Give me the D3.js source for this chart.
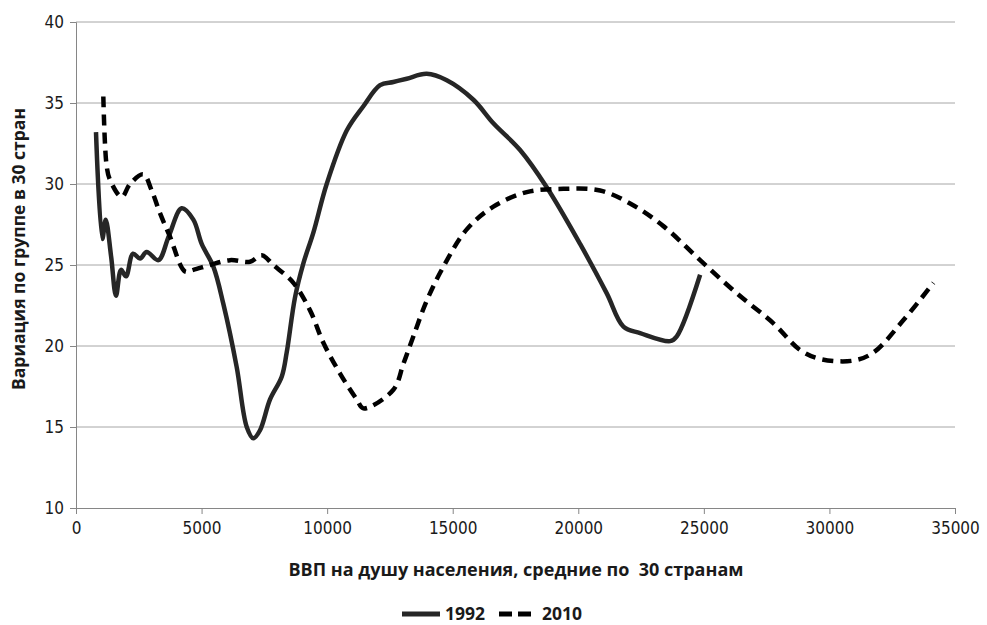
<!DOCTYPE html>
<html>
<head>
<meta charset="utf-8">
<script src="https://cdn.jsdelivr.net/npm/d3@7"></script>
<style>
  body { margin: 0; background: #fff; }
  text { font-family: "DejaVu Sans Condensed", "Open Sans", sans-serif; }
  .title { font-family: "Open Sans", "Noto Sans", sans-serif; white-space: pre; }
</style>
</head>
<body>
<script>
// 1992 series: gdp per capita (x) and variation (y)
var x1992 = [796, 1048, 1183, 1400, 1593, 1792, 1990, 2270, 2549, 2814, 3279, 3700, 4209, 4672, 5005, 5469, 5867, 6399, 6798, 7061, 7328, 7726, 8191, 8390, 8721, 9053, 9451, 9982, 10780, 11442, 12107, 12637, 13170, 13966, 14763, 15823, 16619, 17682, 18744, 20072, 21134, 21797, 22461, 23656, 23922, 24851];
var y1992 = [33.2, 26.6, 27.8, 25.5, 23.1, 24.7, 24.3, 25.7, 25.4, 25.8, 25.3, 26.8, 28.5, 27.8, 26.3, 24.9, 22.6, 18.7, 15.0, 14.3, 14.8, 16.7, 18.1, 19.6, 23.0, 25.1, 27.0, 30.0, 33.3, 34.8, 36.1, 36.3, 36.5, 36.8, 36.4, 35.2, 33.75, 32.1, 29.8, 26.3, 23.25, 21.2, 20.8, 20.3, 20.6, 24.4];

// 2010 series
var x2010 = [1088, 1221, 1354, 1819, 2150, 2681, 3013, 3345, 3743, 4341, 4672, 5337, 6133, 6930, 7394, 7858, 8655, 9319, 9850, 10514, 11178, 11442, 12637, 13036, 13434, 13966, 14630, 15559, 16619, 17948, 19407, 20868, 22063, 23389, 24851, 26312, 27770, 28833, 29630, 30957, 31754, 32948, 34143];
var y2010 = [35.4, 31.1, 30.25, 29.2, 30.0, 30.6, 29.6, 28.2, 26.75, 24.6, 24.7, 25.0, 25.3, 25.2, 25.6, 25.0, 23.9, 22.2, 20.2, 18.3, 16.7, 16.15, 17.3, 18.9, 20.6, 22.8, 24.9, 27.2, 28.6, 29.5, 29.7, 29.6, 28.8, 27.4, 25.3, 23.25, 21.4, 19.75, 19.2, 19.1, 19.6, 21.6, 23.9];

var xTicks = [0, 5000, 10000, 15000, 20000, 25000, 30000, 35000];
var yTicks = [10, 15, 20, 25, 30, 35, 40];
var seriesNames = ["1992", "2010"];

var width = 987, height = 625;
var margin = ({ top: 22, right: 32, bottom: 117, left: 76 });

var svg = d3.select("body").append("svg")
    .attr("width", width)
    .attr("height", height);

var x = d3.scaleLinear()
    .domain([0, 35000])
    .range([margin.left, width - margin.right]);

var y = d3.scaleLinear()
    .domain([10, 40])
    .range([height - margin.bottom, margin.top]);

// gridlines
svg.append("g")
    .selectAll("line")
    .data(yTicks.slice(1))
    .enter()
    .append("line")
    .attr("x1", x(0))
    .attr("x2", x(35000))
    .attr("y1", d => y(d))
    .attr("y2", d => y(d))
    .attr("stroke", "#a6a6a6")
    .attr("stroke-width", 1);

var xAxis = g => g
    .attr("transform", `translate(0,${y(10)})`)
    .call(d3.axisBottom(x).tickValues(xTicks).tickSize(6).tickPadding(8).tickFormat(d3.format("d")))
    .call(g => g.selectAll("path, line").attr("stroke", "#868686"))
    .call(g => g.selectAll("text").attr("font-size", 17).attr("fill", "#1a1a1a"));

var yAxis = g => g
    .attr("transform", `translate(${x(0)},0)`)
    .call(d3.axisLeft(y).tickValues(yTicks).tickSize(6).tickPadding(6).tickFormat(d3.format("d")))
    .call(g => g.selectAll("path, line").attr("stroke", "#868686"))
    .call(g => g.selectAll("text").attr("font-size", 17).attr("fill", "#1a1a1a"));

svg.append("g").call(xAxis);
svg.append("g").call(yAxis);

var line = d3.line()
    .x(d => x(d[0]))
    .y(d => y(d[1]))
    .curve(d3.curveCatmullRom.alpha(0.5));

svg.append("path")
    .datum(d3.zip(x1992, y1992))
    .attr("fill", "none")
    .attr("stroke", "#262626")
    .attr("stroke-width", 4.5)
    .attr("stroke-linejoin", "round")
    .attr("d", line);

svg.append("path")
    .datum(d3.zip(x2010, y2010))
    .attr("fill", "none")
    .attr("stroke", "#000")
    .attr("stroke-width", 4.5)
    .attr("stroke-dasharray", "11,7")
    .attr("d", line);

// axis titles
svg.append("text")
    .attr("class", "title")
    .attr("x", 516)
    .attr("y", 576)
    .attr("text-anchor", "middle")
    .attr("font-size", 18)
    .attr("font-weight", "bold")
    .attr("fill", "#1a1a1a")
    .text("ВВП на душу населения, средние по  30 странам");

svg.append("text")
    .attr("class", "title")
    .attr("transform", "translate(25,249) rotate(-90)")
    .attr("text-anchor", "middle")
    .attr("font-size", 17.5)
    .attr("font-weight", "bold")
    .attr("fill", "#1a1a1a")
    .text("Вариация по группе в 30 стран");

// legend
var legend = svg.append("g");
var lx = [402, 499];
legend.selectAll("line")
    .data(seriesNames)
    .enter()
    .append("line")
    .attr("x1", (d, i) => lx[i])
    .attr("x2", (d, i) => lx[i] + 38)
    .attr("y1", 614)
    .attr("y2", 614)
    .attr("stroke", (d, i) => i ? "#000" : "#262626")
    .attr("stroke-width", 5)
    .attr("stroke-dasharray", (d, i) => i ? "13,6" : null);

legend.selectAll("text")
    .data(seriesNames)
    .enter()
    .append("text")
    .attr("class", "title")
    .attr("x", (d, i) => lx[i] + 43)
    .attr("y", 620)
    .attr("font-size", 17.5)
    .attr("font-weight", "bold")
    .attr("fill", "#1a1a1a")
    .text(d => d);
</script>
</body>
</html>
